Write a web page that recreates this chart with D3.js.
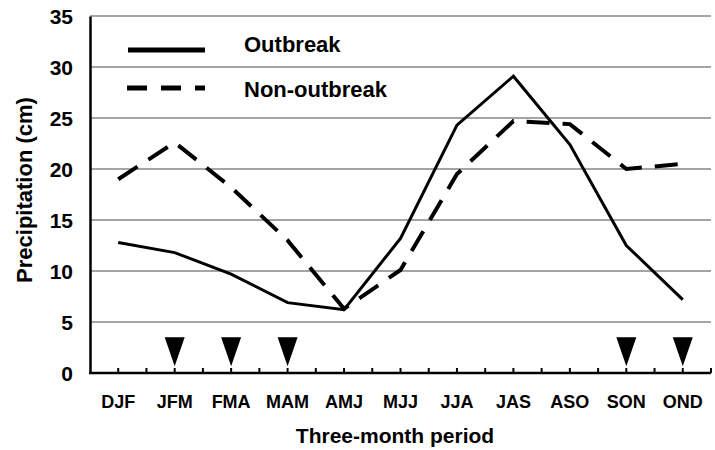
<!DOCTYPE html>
<html>
<head>
<meta charset="utf-8">
<script src="https://cdn.jsdelivr.net/npm/d3@7"></script>
<style>
  html, body { margin: 0; padding: 0; background: #fff; }
  svg { display: block; }
  text { font-family: "Liberation Sans", Arial, sans-serif; font-weight: bold; fill: #000; }
</style>
</head>
<body>
<svg id="chart" width="715" height="450"></svg>
<script>
const periods = ["DJF","JFM","FMA","MAM","AMJ","MJJ","JJA","JAS","ASO","SON","OND"];
const outbreak = [12.8, 11.8, 9.7, 6.9, 6.2, 13.2, 24.3, 29.1, 22.4, 12.5, 7.2];
const nonOutbreak = [19.0, 22.6, 18.2, 13.0, 6.3, 10.1, 19.5, 24.7, 24.4, 20.0, 20.5];
const flaggedPeriods = ["JFM","FMA","MAM","SON","OND"];
const yTicks = [0, 5, 10, 15, 20, 25, 30, 35];
const seriesNames = ["Outbreak", "Non-outbreak"];
const markerTop = 3.5, markerTip = 0.65;

const svg = d3.select("#chart");
const mLeft = 90, mRight = 711, mTop = 16, mBottom = 373;

const xBand = d3.scaleBand().domain(periods).range([mLeft, mRight]).padding(0);
const x = d => xBand(d) + xBand.bandwidth() / 2;
const y = d3.scaleLinear().domain([0, 35]).range([mBottom, mTop]);

// gridlines
svg.append("g").selectAll("line").data(yTicks.filter(v => v > 0)).join("line")
  .attr("x1", mLeft).attr("x2", mRight)
  .attr("y1", d => y(d)).attr("y2", d => y(d))
  .attr("stroke", "#4a4a4a").attr("stroke-width", 1.2);

// y axis
const yAxis = d3.axisLeft(y).tickValues(yTicks).tickSize(0).tickPadding(17);
const gy = svg.append("g").attr("transform", `translate(${mLeft},0)`).call(yAxis);
gy.select(".domain").attr("stroke", "#000").attr("stroke-width", 2.5);
gy.selectAll("text").style("font-size", "21px").attr("dy", "0.36em");

// x axis line + inward ticks
const gx = svg.append("g");
gx.append("line").attr("x1", mLeft - 1).attr("x2", mRight).attr("y1", mBottom).attr("y2", mBottom)
  .attr("stroke", "#000").attr("stroke-width", 2.5);
const tickXs = periods.map(p => x(p)).concat(periods.map(p => xBand(p) + xBand.bandwidth()));
gx.selectAll("line.tk").data(tickXs).join("line").attr("class", "tk")
  .attr("x1", d => d).attr("x2", d => d).attr("y1", mBottom).attr("y2", mBottom - 5)
  .attr("stroke", "#000").attr("stroke-width", 2);
gx.selectAll("text").data(periods).join("text")
  .attr("x", d => x(d)).attr("y", 408).attr("text-anchor", "middle")
  .style("font-size", "18px").text(d => d);

// axis titles
svg.append("text").attr("x", 395).attr("y", 443).attr("text-anchor", "middle")
  .style("font-size", "21px").text("Three-month period");
svg.append("text").attr("transform", "translate(32,190) rotate(-90)").attr("text-anchor", "middle")
  .style("font-size", "22px").text("Precipitation (cm)");

// lines
const line = d3.line().x((d, i) => x(periods[i])).y(d => y(d));
svg.append("path").datum(nonOutbreak).attr("d", line).attr("fill", "none")
  .attr("stroke", "#000").attr("stroke-width", 4).attr("stroke-dasharray", "23,13");
svg.append("path").datum(outbreak).attr("d", line).attr("fill", "none")
  .attr("stroke", "#000").attr("stroke-width", 3).attr("stroke-linejoin", "miter");

// triangle markers
svg.append("g").selectAll("path").data(flaggedPeriods).join("path")
  .attr("d", d => {
    const cx = x(d), yt = y(markerTop), yb = y(markerTip);
    return `M${cx - 10},${yt}L${cx + 10},${yt}L${cx},${yb}Z`;
  }).attr("fill", "#000");

// legend
const lg = svg.append("g");
lg.append("line").attr("x1", 128).attr("x2", 205).attr("y1", 50).attr("y2", 50)
  .attr("stroke", "#000").attr("stroke-width", 5);
lg.append("line").attr("x1", 127).attr("x2", 205).attr("y1", 88).attr("y2", 88)
  .attr("stroke", "#000").attr("stroke-width", 5).attr("stroke-dasharray", "20,14");
lg.append("text").attr("x", 244).attr("y", 52).style("font-size", "22px").text(seriesNames[0]);
lg.append("text").attr("x", 244).attr("y", 97).style("font-size", "22px").text(seriesNames[1]);
</script>
</body>
</html>
